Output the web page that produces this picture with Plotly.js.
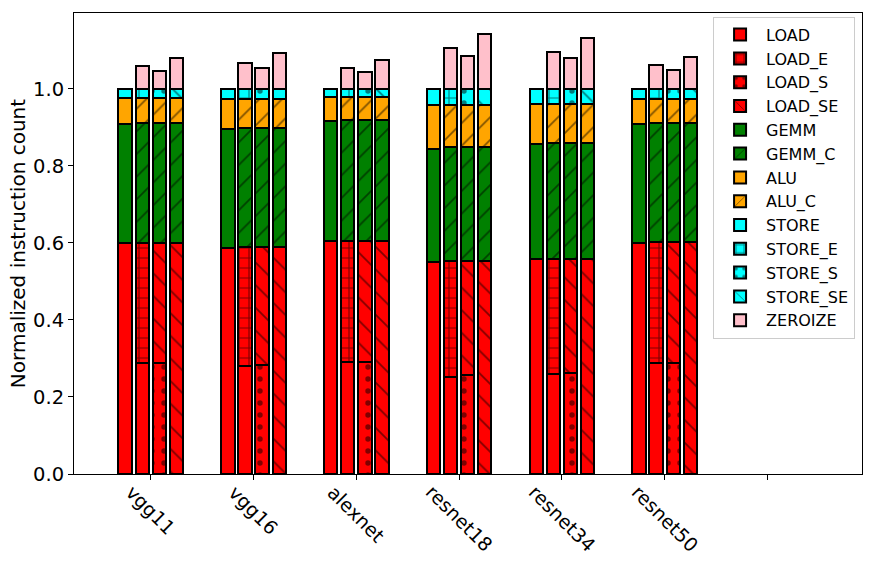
<!DOCTYPE html>
<html>
<head>
<meta charset="utf-8">
<script src="https://cdn.plot.ly/plotly-3.0.1.min.js"></script>
<style>
html, body { margin: 0; padding: 0; background: #ffffff; }
#chart { width: 872px; height: 566px; }
</style>
</head>
<body>
<div id="chart"></div>
<script>
// ------------------------------------------------------------------------------
// DATA (normalized instruction count)

const networks = ['vgg11', 'vgg16', 'alexnet', 'resnet18', 'resnet34', 'resnet50'];

// baseline bar
const load_base  = [0.600, 0.587, 0.604, 0.551, 0.558, 0.600];
const gemm_base  = [0.310, 0.310, 0.312, 0.293, 0.298, 0.310];
const alu_base   = [0.067, 0.077, 0.063, 0.114, 0.106, 0.065];
const store_base = [0.023, 0.026, 0.021, 0.042, 0.038, 0.025];

// compressed bars (E, S, SE share these)
const load_c  = [0.600, 0.590, 0.606, 0.553, 0.558, 0.602];
const gemm_c  = [0.312, 0.309, 0.312, 0.296, 0.302, 0.310];
const alu_c   = [0.065, 0.075, 0.061, 0.109, 0.102, 0.063];
const store_c = [0.023, 0.026, 0.021, 0.042, 0.038, 0.025];

// where the LOAD part is split in the E and S bars
const load_split_e = [0.288, 0.281, 0.290, 0.253, 0.260, 0.289];
const load_split_s = [0.288, 0.283, 0.290, 0.257, 0.263, 0.289];

// zeroize on top of each compressed bar
const zero_e  = [0.059, 0.067, 0.055, 0.105, 0.097, 0.061];
const zero_s  = [0.046, 0.053, 0.044, 0.085, 0.079, 0.049];
const zero_se = [0.079, 0.092, 0.075, 0.142, 0.133, 0.084];


// ------------------------------------------------------------------------------
// PARAMETERS

const font_family = 'DejaVu Sans, sans-serif';
const offsets     = [-0.25, -1 / 12, 1 / 12, 0.25];   // baseline, E, S, SE
const bar_width   = 0.13;

const c_load  = '#ff0000';
const c_gemm  = '#008000';
const c_alu   = '#ffa500';
const c_store = '#00ffff';
const c_zero  = '#ffc0cb';

const hatch = {
    '':   {shape: ''},
    'E':  {shape: '+',  size: 10, solidity: 0.22},
    'S':  {shape: '.',  size: 12, solidity: 0.16},
    'SE': {shape: '\\', size: 16, solidity: 0.11},
    'C':  {shape: '/',  size: 16, solidity: 0.11},
};


// ------------------------------------------------------------------------------
// UTILITIES

function minus(a, b) {
    return a.map((v, i) => v - b[i]);
}

// parts: list of [bar index in group, values]
function segment(name, color, hatch_key, parts) {
    const x = [];
    const y = [];
    for (const [k, vals] of parts) {
        vals.forEach((v, i) => {
            x.push(i + offsets[k]);
            y.push(v);
        });
    }
    const h = hatch[hatch_key];
    const marker = {
        color: color,
        line: {color: '#000000', width: 2}
    };
    if (h.shape !== '') {
        marker.pattern = {
            shape: h.shape,
            size: h.size,
            solidity: h.solidity,
            fgcolor: '#000000',
            fillmode: 'overlay'
        };
    }
    return {
        type: 'bar',
        name: name,
        x: x,
        y: y,
        width: bar_width,
        marker: marker,
        hoverinfo: 'skip'
    };
}


// ------------------------------------------------------------------------------
// TRACES

const traces = [
    segment('LOAD',     c_load,  '',   [[0, load_base], [1, load_split_e]]),
    segment('LOAD_E',   c_load,  'E',  [[1, minus(load_c, load_split_e)]]),
    segment('LOAD_S',   c_load,  'S',  [[2, load_split_s]]),
    segment('LOAD_SE',  c_load,  'SE', [[2, minus(load_c, load_split_s)], [3, load_c]]),
    segment('GEMM',     c_gemm,  '',   [[0, gemm_base]]),
    segment('GEMM_C',   c_gemm,  'C',  [[1, gemm_c], [2, gemm_c], [3, gemm_c]]),
    segment('ALU',      c_alu,   '',   [[0, alu_base]]),
    segment('ALU_C',    c_alu,   'C',  [[1, alu_c], [2, alu_c], [3, alu_c]]),
    segment('STORE',    c_store, '',   [[0, store_base]]),
    segment('STORE_E',  c_store, 'E',  [[1, store_c]]),
    segment('STORE_S',  c_store, 'S',  [[2, store_c]]),
    segment('STORE_SE', c_store, 'SE', [[3, store_c]]),
    segment('ZEROIZE',  c_zero,  '',   [[1, zero_e], [2, zero_s], [3, zero_se]]),
];

// category labels drawn rotated and centred under each tick
const label_annotations = networks.map((n, i) => ({
    text: n,
    x: i,
    xref: 'x',
    y: 0,
    yref: 'paper',
    xanchor: 'center',
    yanchor: 'top',
    yshift: -4,
    textangle: 45,
    showarrow: false,
    font: {family: font_family, size: 19, color: '#000000'}
}));

const layout = {
    width: 872,
    height: 566,
    paper_bgcolor: '#ffffff',
    plot_bgcolor: '#ffffff',
    barmode: 'stack',
    font: {family: font_family, color: '#000000', size: 19},
    margin: {l: 74, r: 10, t: 13, b: 92},
    showlegend: true,
    legend: {
        x: 0.811,
        y: 0.992,
        xanchor: 'left',
        yanchor: 'top',
        traceorder: 'normal',
        itemwidth: 42,
        bgcolor: '#ffffff',
        bordercolor: '#cccccc',
        borderwidth: 1,
        font: {family: font_family, size: 16, color: '#000000'}
    },
    xaxis: {
        range: [-0.747, 6.92],
        tickvals: [0, 1, 2, 3, 4, 5, 6],
        ticktext: ['', '', '', '', '', '', ''],
        ticks: 'outside',
        ticklen: 5,
        tickwidth: 1,
        tickcolor: '#000000',
        showgrid: false,
        zeroline: false,
        showline: true,
        mirror: true,
        linecolor: '#000000',
        linewidth: 1
    },
    yaxis: {
        range: [0, 1.197],
        tickvals: [0, 0.2, 0.4, 0.6, 0.8, 1.0],
        tickformat: '.1f',
        ticks: 'outside',
        ticklen: 5,
        tickwidth: 1,
        tickcolor: '#000000',
        tickfont: {family: font_family, size: 19.5},
        showgrid: false,
        zeroline: false,
        showline: true,
        mirror: true,
        linecolor: '#000000',
        linewidth: 1,
        title: {
            text: 'Normalized instruction count',
            font: {family: font_family, size: 20},
            standoff: 2
        }
    },
    annotations: label_annotations
};

Plotly.newPlot('chart', traces, layout, {displayModeBar: false, staticPlot: true});
</script>
</body>
</html>
